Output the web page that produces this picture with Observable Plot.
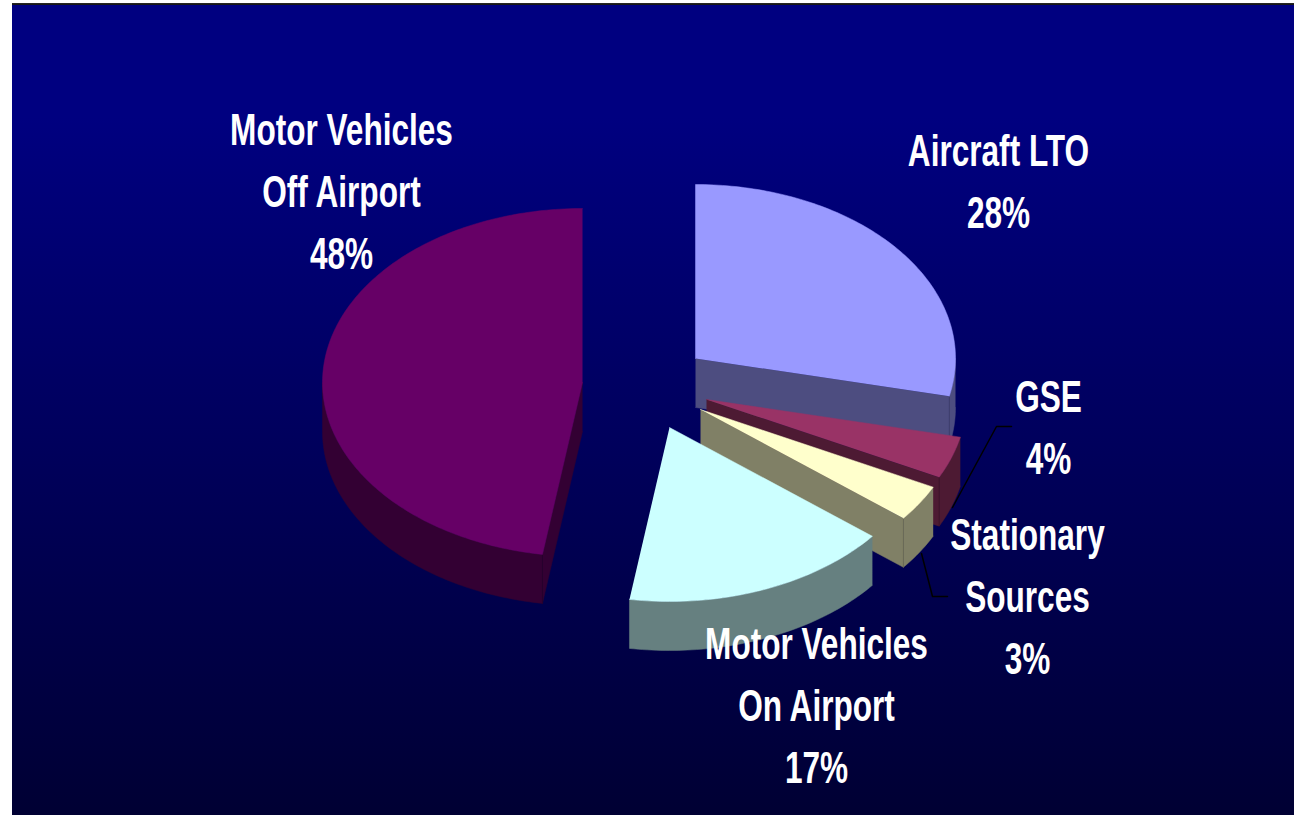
<!DOCTYPE html>
<html>
<head>
<meta charset="utf-8">
<script src="https://cdn.jsdelivr.net/npm/d3@7"></script>
<script src="https://cdn.jsdelivr.net/npm/@observablehq/plot@0.6"></script>
<style>html,body{margin:0;padding:0;background:#fff;overflow:hidden}</style>
</head>
<body>
<div id="chart"></div>
<script>
// Data
const categories = ["Aircraft LTO", "GSE", "Stationary\nSources", "Motor Vehicles\nOn Airport", "Motor Vehicles\nOff Airport"];
const shares = [28.47, 3.89, 3.39, 16.71, 47.54];
// Styling
const topColors = ["#9999FF", "#993366", "#FFFFCC", "#CCFFFF", "#660066"];
const wallColors = ["#4D4D80", "#4D1A33", "#808066", "#668080", "#330033"];
// Layout of the exploded pie (chart units)
const pieCentersX = [695, 706, 700, 669, 582];
const pieCentersY = [358, 399, 409, 427, 382];
const labelX = [998, 1048, 1027, 816, 341];
const labelY = [183, 429, 598, 707, 193];
const radiusX = 260, radiusY = 174, depth = 49;
const leaderA = [[1011, 426], [996, 426], [952, 507]];
const leaderB = [[921, 553], [932, 596], [947, 596]];

const pt = (i, deg, dz = 0) => {
  const a = deg * Math.PI / 180;
  return {x: pieCentersX[i] + radiusX * Math.sin(a), y: pieCentersY[i] - radiusY * Math.cos(a) + dz};
};
const arc = (i, a0, a1, dz = 0) => {
  const n = Math.max(1, Math.ceil(Math.abs(a1 - a0)));
  return d3.range(n + 1).map(k => pt(i, a0 + (a1 - a0) * k / n, dz));
};

const polys = [];
let id = 0;
const add = (points, color) => { const k = id++; points.forEach(p => polys.push({...p, id: k, color})); };
let cum = 0;
categories.forEach((c, i) => {
  const a0 = cum * 3.6, a1 = (cum + shares[i]) * 3.6;
  cum += shares[i];
  const tip = {x: pieCentersX[i], y: pieCentersY[i]};
  const tipB = {x: tip.x, y: tip.y + depth};
  const radial = a => { const p = pt(i, a), q = pt(i, a, depth); add([tip, p, q, tipB], wallColors[i]); };
  if (a0 > 180 && a0 < 360) radial(a0);
  if (a1 > 0 && a1 < 180) radial(a1);
  const w0 = Math.max(a0, 90), w1 = Math.min(a1, 270);
  if (w1 > w0) add([...arc(i, w0, w1), ...arc(i, w1, w0, depth)], wallColors[i]);
  // visible edge between the flat side and the curved side
  const edge = a0 > 180 ? a0 : a1;
  if (edge > 90 && edge < 270 && i !== 3) {
    add([pt(i, edge), pt(i, edge, depth)], d3.color(wallColors[i]).darker(0.9).formatHex());
  }
  add([tip, ...arc(i, a0, a1)], topColors[i]);
});

const labels = categories.map((c, i) => ({
  text: `${c}\n${Math.round(shares[i])}%`, x: labelX[i], y: labelY[i] - 6
}));
const leaders = [...leaderA.map(p => ({x: p[0], y: p[1], id: "a"})), ...leaderB.map(p => ({x: p[0], y: p[1], id: "b"}))];

const chart = Plot.plot({
  width: 1294, height: 815,
  margin: 0,
  x: {domain: [0, 1294], range: [0, 1294], axis: null},
  y: {domain: [0, 815], range: [0, 815], axis: null},
  color: {type: "identity"},
  style: {
    display: "block",
    background: "linear-gradient(#2a2a2a,#111) 12px 3px/100% 2px no-repeat, linear-gradient(#000080 0%, #000080 14%, #000033 100%) 12px 3px/100% 100% no-repeat"
  },
  marks: [
    Plot.line(polys, {x: "x", y: "y", z: "id", fill: "color", stroke: "color", strokeWidth: 0.5, curve: "linear"}),
    Plot.line(leaders, {x: "x", y: "y", z: "id", stroke: "#000", strokeWidth: 1.5, curve: "linear"}),
    Plot.text(labels, {
      x: "x", y: "y", text: "text", fill: "#fff", fontSize: 45, fontWeight: "bold",
      fontFamily: "'Liberation Sans',Arial,sans-serif",
      lineHeight: 1.378, textAnchor: "middle", lineAnchor: "middle"
    })
  ]
});
// Condense the labels: no narrow face is installed
chart.querySelectorAll('g[aria-label="text"] text').forEach(t => {
  t.setAttribute("transform", `${t.getAttribute("transform") || ""} scale(0.702,1)`);
});
document.getElementById("chart").append(chart);
</script>
</body>
</html>
